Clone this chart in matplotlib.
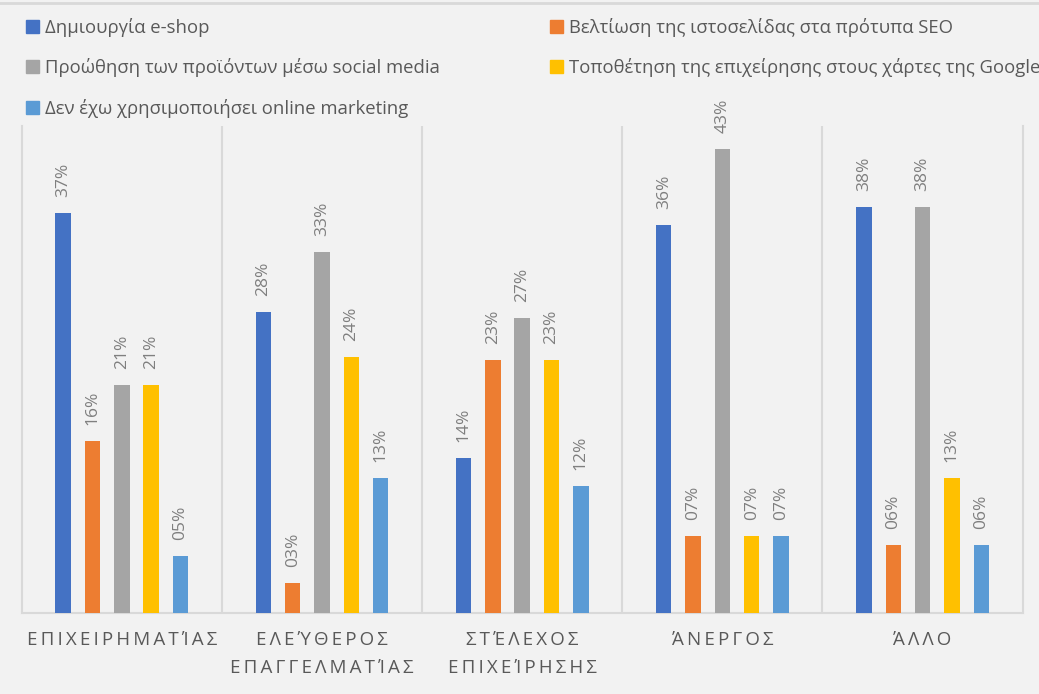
import numpy as np
import matplotlib.pyplot as plt
from matplotlib.patches import Patch

# ---------------- DATA ----------------
categories = ["ΕΠΙΧΕΙΡΗΜΑΤΊΑΣ", "ΕΛΕΎΘΕΡΟΣ\nΕΠΑΓΓΕΛΜΑΤΊΑΣ", "ΣΤΈΛΕΧΟΣ\nΕΠΙΧΕΊΡΗΣΗΣ",
              "ΆΝΕΡΓΟΣ", "ΆΛΛΟ"]
series = ["Δημιουργία e-shop",
          "Βελτίωση της ιστοσελίδας στα πρότυπα SEO",
          "Προώθηση των προϊόντων μέσω social media",
          "Τοποθέτηση της επιχείρησης στους χάρτες της Google",
          "Δεν έχω χρησιμοποιήσει online marketing"]
# percentages (labels show them rounded)
eshop = [37.0, 27.9, 14.3, 35.9, 37.6]
seo = [15.9, 2.8, 23.4, 7.1, 6.3]
social = [21.1, 33.4, 27.3, 43.0, 37.6]
google = [21.1, 23.7, 23.4, 7.1, 12.5]
no_marketing = [5.3, 12.5, 11.7, 7.1, 6.3]
values = [eshop, seo, social, google, no_marketing]
colors = ["#4472C4", "#ED7D31", "#A5A5A5", "#FFC000", "#5B9BD5"]

# ---------------- FIGURE ----------------
plt.rcParams['font.family'] = ['Open Sans', 'DejaVu Sans']
bg = "#F2F2F2"
grid = "#D9D9D9"
text_col = "#595959"

fig = plt.figure(figsize=(10.39, 6.94), dpi=100, facecolor=bg)
ax = fig.add_axes([0.0209, 0.1171, 0.9634, 0.7013])
ax.set_facecolor(bg)

x = np.arange(len(categories))
step = 0.1465
width = 0.077
for i, (vals, col) in enumerate(zip(values, colors)):
    bars = ax.bar(x + (i - 2) * step, vals, width, color=col, zorder=3)
    ax.bar_label(bars, labels=[f"{int(v + 0.5):02d}%" for v in vals], rotation=90,
                 padding=11.5, color="#7F7F7F", fontsize=12.5)

ax.set_xlim(-0.5, len(categories) - 0.5)
ax.set_ylim(0, 45.1)

# separators between groups
for b in np.arange(0.5, len(categories) - 0.5):
    ax.axvline(b, color=grid, lw=1.5, zorder=1)
for side in ["left", "right", "bottom"]:
    ax.spines[side].set_color(grid)
    ax.spines[side].set_linewidth(1.5)
ax.spines["top"].set_visible(False)

# letter-spaced category labels
ax.set_yticks([])
ax.set_xticks(x)
gap = "\u2006"
spaced = ["\n".join(gap.join(line) for line in c.split("\n")) for c in categories]
ax.set_xticklabels(spaced, fontsize=13.5, color=text_col, linespacing=1.75)
ax.tick_params(axis="x", length=0, pad=13)

# legend, filled row by row
handles = [Patch(color=c) for c in colors]
order = [0, 2, 4, 1, 3]
fig.legend([handles[k] for k in order], [series[k] for k in order],
           loc="upper left", bbox_to_anchor=(0.018, 0.985), ncol=2,
           frameon=False, fontsize=13.3, labelcolor=text_col,
           handlelength=0.7, handleheight=0.7, handletextpad=0.3,
           columnspacing=6.0, labelspacing=1.16, borderaxespad=0)

# top border line
fig.add_artist(plt.Line2D([0, 1], [0.995, 0.995], color=grid, lw=2,
                          transform=fig.transFigure))

fig.savefig("out.png", dpi=100, facecolor=bg)
